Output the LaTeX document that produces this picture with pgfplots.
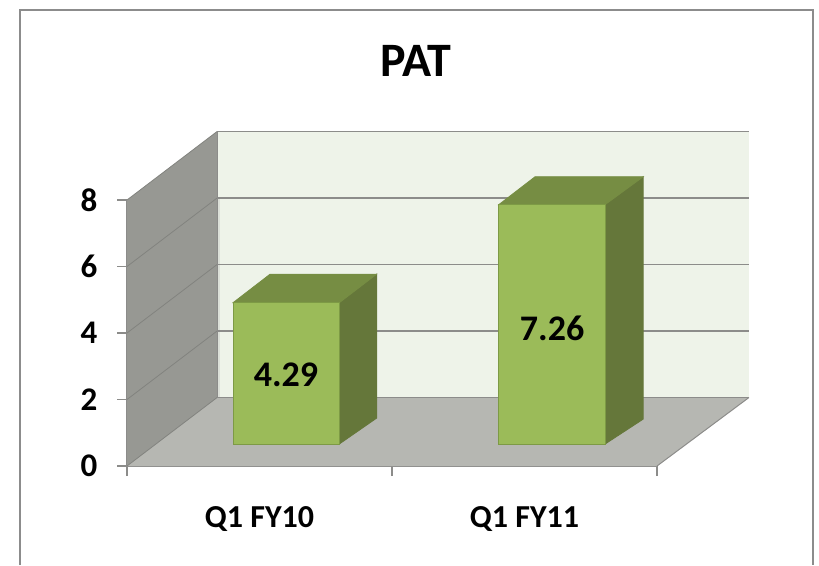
\documentclass[border=0pt]{standalone}
\usepackage{fontspec}
\setmainfont{Carlito}
\usepackage{pgfplots}
\pgfplotsset{compat=1.18}
\definecolor{wallc}{HTML}{979893}
\definecolor{floorc}{HTML}{B6B7B2}
\definecolor{backc}{HTML}{EEF3E9}
\definecolor{stripc}{HTML}{DCE0D8}
\definecolor{gridc}{HTML}{8C8C8A}
\definecolor{gridl}{HTML}{82837F}
\definecolor{framec}{HTML}{8C8C8C}
\definecolor{barfront}{HTML}{9BBB59}
\definecolor{bartop}{HTML}{768D43}
\definecolor{barside}{HTML}{65773A}
\definecolor{baredge}{HTML}{7D9A45}
\begin{document}
\begin{tikzpicture}[x=1pt,y=1pt]
\path[use as bounding box] (0,0) rectangle (819,565);
\draw[framec,line width=2pt] (20,0) -- (20,555) -- (813,555) -- (813,0);
\begin{axis}[
    at={(127pt,99pt)}, anchor=south west,
    scale only axis, width=530pt, height=266pt,
    xmin=0, xmax=2, ymin=0, ymax=8,
    clip=false,
    axis x line=bottom, axis y line=left,
    axis line style={-, draw=gridc, line width=1.8pt},
    major tick length=10pt, tick align=outside,
    tick style={draw=gridc, line width=1.2pt},
    xtick={0,1,2}, xticklabels={},
    extra x ticks={0.5,1.5},
    extra x tick labels={Q1 FY10,Q1 FY11},
    extra x tick style={tick style={draw=none},
      xticklabel style={yshift=-27pt}},
    xticklabel style={font=\fontsize{32}{32}\selectfont\bfseries},
    ytick={0,2,4,6,8},
    yticklabel style={font=\fontsize{33}{33}\selectfont\bfseries, xshift=-16pt},
    /pgf/number format/assume math mode=true,
    title={PAT},
    title style={at={(0.545,1.50)}, anchor=center,
      font=\fontsize{48}{48}\selectfont\bfseries},
  ]
  % back wall, floor, side wall
  \addplot[fill=backc,draw=none] coordinates {(0.34,2.06) (2.347,2.06) (2.347,10.06) (0.34,10.06)} -- cycle;
  \addplot[fill=stripc,draw=none] coordinates {(0.34,2.06) (0.352,2.06) (0.352,8.06) (0.34,8.06)} -- cycle;
  \addplot[fill=floorc,draw=none] coordinates {(0,0) (2,0) (2.347,2.06) (0.34,2.06)} -- cycle;
  \addplot[fill=wallc,draw=none] coordinates {(0,0) (0.34,2.06) (0.34,10.06) (0,8)} -- cycle;
  % back grid lines
  \addplot[gridc,line width=1.5pt] coordinates {(0.34,2.06) (2.347,2.06)};
  \addplot[gridc,line width=1.5pt] coordinates {(0.34,4.06) (2.347,4.06)};
  \addplot[gridc,line width=1.5pt] coordinates {(0.34,6.06) (2.347,6.06)};
  \addplot[gridc,line width=1.5pt] coordinates {(0.34,8.06) (2.347,8.06)};
  \addplot[gridc,line width=1.5pt] coordinates {(0.34,10.06) (2.347,10.06)};
  % side wall grid lines
  \addplot[gridl,line width=0.8pt] coordinates {(0,0) (0.34,2.06)};
  \addplot[gridl,line width=0.8pt] coordinates {(0,2) (0.34,4.06)};
  \addplot[gridl,line width=0.8pt] coordinates {(0,4) (0.34,6.06)};
  \addplot[gridl,line width=0.8pt] coordinates {(0,6) (0.34,8.06)};
  \addplot[gridl,line width=0.8pt] coordinates {(0,8) (0.34,10.06)};
  \addplot[gridc,line width=1pt] coordinates {(2,0) (2.347,2.06)};
  \addplot[gridc,line width=1pt] coordinates {(0.34,2.06) (0.34,10.06)};
  % Q1 FY10
  \addplot[fill=barside,draw=barside,line width=0.8pt] coordinates {(0.801,0.66) (0.942,1.44) (0.942,5.77) (0.801,4.91)} -- cycle;
  \addplot[fill=bartop,draw=bartop,line width=0.8pt] coordinates {(0.400,4.91) (0.801,4.91) (0.942,5.77) (0.540,5.77)} -- cycle;
  \addplot[fill=barfront,draw=baredge,line width=1pt] coordinates {(0.400,0.66) (0.801,0.66) (0.801,4.91) (0.400,4.91)} -- cycle;
  % Q1 FY11
  \addplot[fill=barside,draw=barside,line width=0.8pt] coordinates {(1.804,0.66) (1.948,1.41) (1.948,8.70) (1.804,7.86)} -- cycle;
  \addplot[fill=bartop,draw=bartop,line width=0.8pt] coordinates {(1.403,7.86) (1.804,7.86) (1.948,8.70) (1.540,8.70)} -- cycle;
  \addplot[fill=barfront,draw=baredge,line width=1pt] coordinates {(1.403,0.66) (1.804,0.66) (1.804,7.86) (1.403,7.86)} -- cycle;
  \node[font=\fontsize{36}{36}\selectfont\bfseries] at (axis cs:0.600,2.74) {4.29};
  \node[font=\fontsize{36}{36}\selectfont\bfseries] at (axis cs:1.604,4.15) {7.26};
\end{axis}
\end{tikzpicture}
\end{document}
